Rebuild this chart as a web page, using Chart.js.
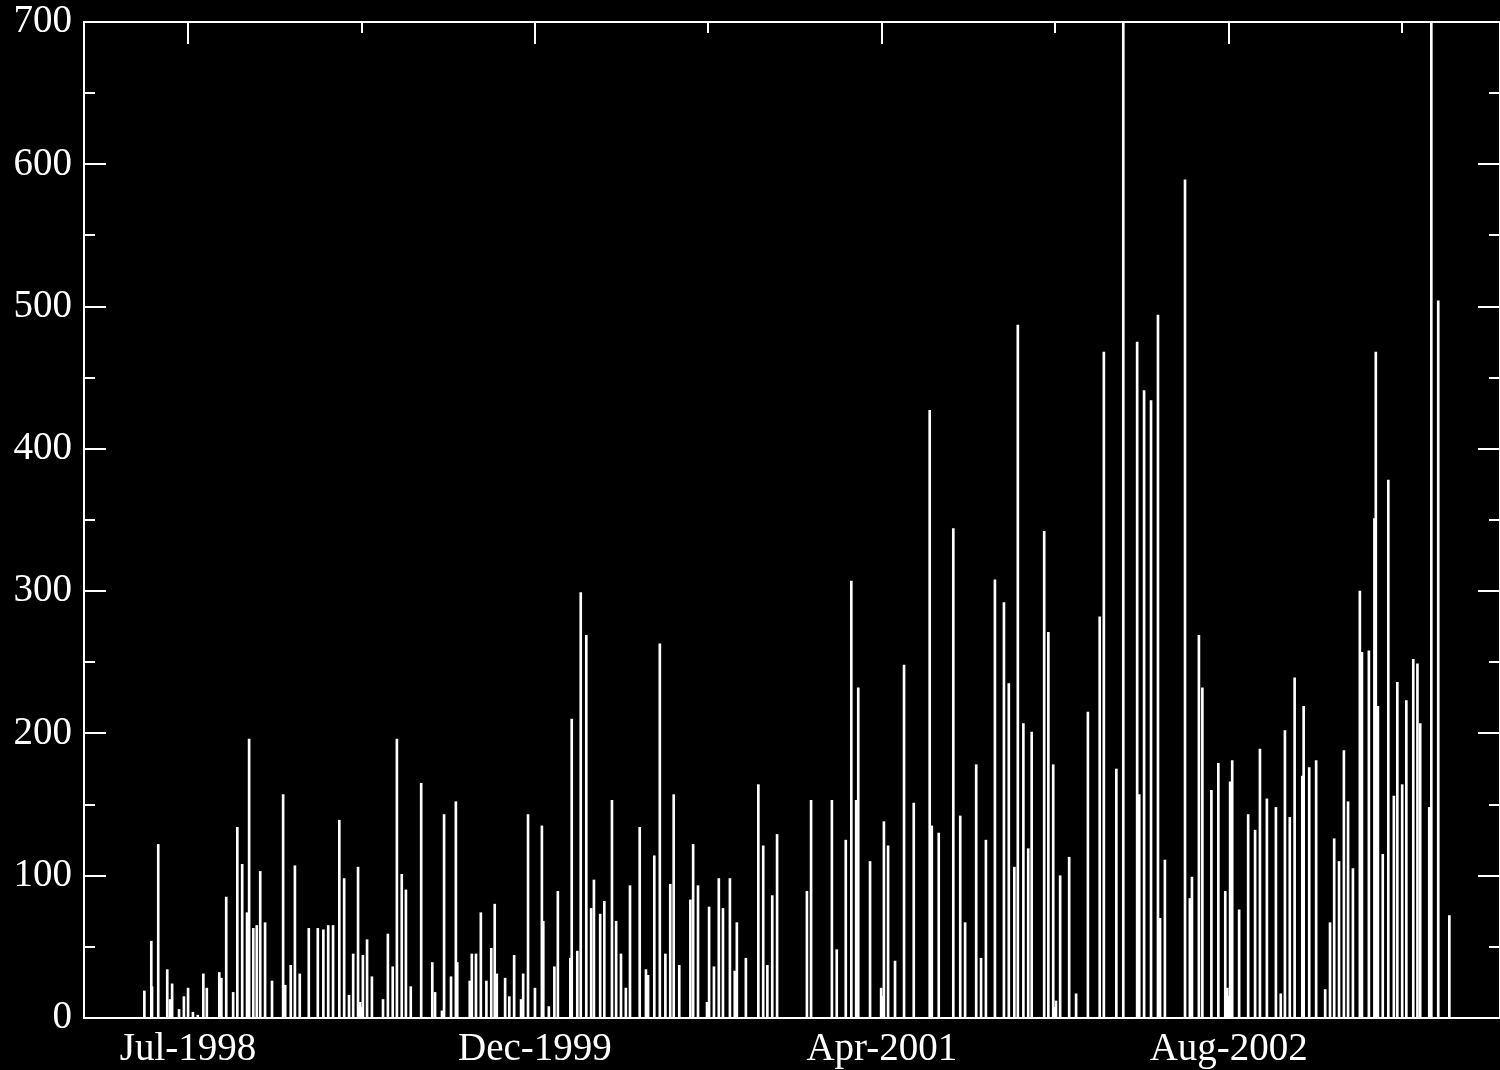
<!DOCTYPE html>
<html>
<head>
<meta charset="utf-8">
<script src="https://cdn.jsdelivr.net/npm/chart.js@4.4.0/dist/chart.umd.min.js"></script>
<style>
  html, body { margin: 0; padding: 0; background: #000; }
  #wrap { width: 1500px; height: 1070px; }
</style>
</head>
<body>
<div id="wrap"><canvas id="bar_chart"></canvas></div>
<script>
// days counted from the Jul-1998 tick
const barDays = [
    -63, -53, -52, -43, -30, -26, -23, -13, -6, 0,
    7, 14, 22, 27, 45, 48, 55, 65, 71, 78,
    85, 88, 94, 99, 104, 111, 121, 137, 140, 148,
    154, 161, 174, 187, 195, 202, 209, 218, 225, 232,
    238, 245, 248, 252, 258, 265, 281, 288, 295, 301,
    308, 314, 321, 336, 352, 356, 366, 369, 379, 386,
    388, 406, 409, 415, 422, 430, 437, 442, 445, 457,
    463, 470, 480, 483, 490, 500, 510, 512, 520, 528,
    533, 551, 553, 561, 566, 574, 581, 585, 594, 600,
    611, 617, 624, 631, 637, 651, 660, 663, 672, 680,
    688, 695, 700, 708, 724, 728, 735, 748, 751, 758,
    765, 771, 781, 788, 791, 804, 822, 829, 835, 842,
    849, 892, 898, 928, 935, 948, 956, 963, 966, 983,
    999, 1003, 1009, 1019, 1032, 1046, 1069, 1072, 1082, 1103,
    1113, 1120, 1136, 1143, 1150, 1163, 1176, 1183, 1191, 1196,
    1204, 1211, 1216, 1234, 1240, 1247, 1251, 1257, 1270, 1280,
    1297, 1314, 1320, 1338, 1348, 1368, 1371, 1378, 1388, 1398,
    1401, 1408, 1437, 1444, 1447, 1457, 1462, 1475, 1485, 1495,
    1498, 1502, 1505, 1515, 1528, 1538, 1545, 1555, 1568, 1575,
    1581, 1588, 1595, 1606, 1608, 1616, 1626, 1639, 1646, 1652,
    1659, 1666, 1672, 1679, 1689, 1692, 1702, 1710, 1712, 1715,
    1722, 1730, 1738, 1743, 1750, 1756, 1766, 1772, 1776, 1789,
    1792, 1802, 1818
];
const barValues = [
    19, 54, 22, 122, 34, 13, 24, 6, 15, 21,
    4, 2, 31, 21, 32, 28, 85, 18, 134, 108,
    74, 196, 63, 65, 103, 67, 26, 157, 23, 37,
    107, 31, 63, 63, 62, 65, 65, 139, 98, 16,
    45, 106, 11, 44, 55, 29, 13, 59, 36, 196,
    101, 90, 22, 165, 39, 18, 5, 143, 29, 152,
    39, 26, 45, 45, 74, 26, 49, 80, 31, 28,
    15, 44, 13, 31, 143, 21, 135, 68, 8, 36,
    89, 42, 210, 47, 299, 269, 77, 97, 73, 82,
    153, 68, 45, 21, 93, 134, 34, 30, 114, 263,
    45, 94, 157, 37, 83, 122, 93, 11, 78, 36,
    98, 77, 98, 33, 67, 42, 164, 121, 37, 86,
    129, 89, 153, 153, 48, 125, 307, 153, 232, 110,
    21, 138, 121, 40, 248, 151, 427, 135, 130, 344,
    142, 67, 178, 42, 125, 308, 292, 235, 106, 487,
    207, 119, 201, 342, 271, 178, 12, 100, 113, 17,
    215, 282, 468, 175, 760, 475, 157, 441, 434, 494,
    70, 111, 589, 84, 99, 269, 232, 160, 179, 89,
    21, 166, 181, 76, 143, 132, 189, 154, 148, 17,
    202, 141, 239, 170, 219, 176, 181, 20, 67, 126,
    110, 188, 152, 105, 300, 257, 258, 351, 468, 219,
    115, 378, 156, 236, 164, 223, 252, 249, 207, 148,
    760, 504, 72
];

const xTickDays = [0, 250, 500, 750, 1000, 1250, 1500, 1750];
const xTickLabels = ['Jul-1998', '', 'Dec-1999', '', 'Apr-2001', '', 'Aug-2002', ''];
const yTickValues = [0, 50, 100, 150, 200, 250, 300, 350, 400, 450, 500, 550, 600, 650, 700];

const labelFont = { family: 'Liberation Serif', size: 39 };

//black background, box and inward ticks
const frameTicks = {
    id: 'frameTicks',
    beforeDraw(chart) {
        const ctx = chart.ctx;
        ctx.save();
        ctx.fillStyle = '#000';
        ctx.fillRect(0, 0, chart.width, chart.height);
        ctx.restore();
    },
    afterDraw(chart) {
        const ctx = chart.ctx;
        const a = chart.chartArea;
        const xs = chart.scales.x;
        const ys = chart.scales.y;
        ctx.save();
        ctx.strokeStyle = '#fff';
        ctx.lineWidth = 2;
        ctx.strokeRect(a.left, a.top, a.right - a.left, a.bottom - a.top);
        ctx.beginPath();
        yTickValues.forEach(v => {
            const py = Math.round(ys.getPixelForValue(v));
            const len = (v % 100 == 0) ? 22 : 11;
            ctx.moveTo(a.left, py);
            ctx.lineTo(a.left + len, py);
            ctx.moveTo(a.right, py);
            ctx.lineTo(a.right - len, py);
        });
        xTickDays.forEach((d, i) => {
            const px = Math.round(xs.getPixelForValue(d));
            const len = (i % 2 == 0) ? 22 : 11;
            ctx.moveTo(px, a.top);
            ctx.lineTo(px, a.top + len);
            ctx.moveTo(px, a.bottom);
            ctx.lineTo(px, a.bottom - len);
        });
        ctx.stroke();
        ctx.restore();
    }
};

function createChart(id) {
    const ctx = document.getElementById(id);
    return new Chart(ctx, {
        type: 'bar',
        data: {
            datasets: [{
                data: barDays.map((d, i) => ({ x: d, y: barValues[i] })),
                backgroundColor: '#fff',
                borderWidth: 0,
                barThickness: 2,
                grouped: false
            }]
        },
        options: {
            responsive: true,
            maintainAspectRatio: false,
            animation: false,
            layout: { padding: { top: 22, right: 0, left: 0, bottom: 0 } },
            plugins: {
                legend: { display: false },
                tooltip: { enabled: false }
            },
            scales: {
                x: {
                    type: 'linear',
                    offset: false,
                    min: -150,
                    max: 1891,
                    afterBuildTicks: s => { s.ticks = xTickDays.map(v => ({ value: v })); },
                    afterFit: s => { s.height = 52; },
                    grid: { display: false, drawTicks: false, offset: false },
                    border: { display: false },
                    ticks: {
                        color: '#fff',
                        font: labelFont,
                        padding: 8,
                        maxRotation: 0,
                        autoSkip: false,
                        callback: v => xTickLabels[xTickDays.indexOf(v)] || ''
                    }
                },
                y: {
                    min: 0,
                    max: 700,
                    afterBuildTicks: s => { s.ticks = yTickValues.map(v => ({ value: v })); },
                    afterFit: s => { s.width = 84; s.paddingTop = 0; s.paddingBottom = 0; },
                    grid: { display: false, drawTicks: false },
                    border: { display: false },
                    ticks: {
                        color: '#fff',
                        font: { family: 'Liberation Serif', size: 39, lineHeight: 0.5 },
                        padding: 12,
                        callback: v => (v % 100 == 0) ? String(v) : ''
                    }
                }
            }
        },
        plugins: [frameTicks]
    });
}

let barChart;
window.onload = () => {
    barChart = createChart('bar_chart');
};
</script>
</body>
</html>
